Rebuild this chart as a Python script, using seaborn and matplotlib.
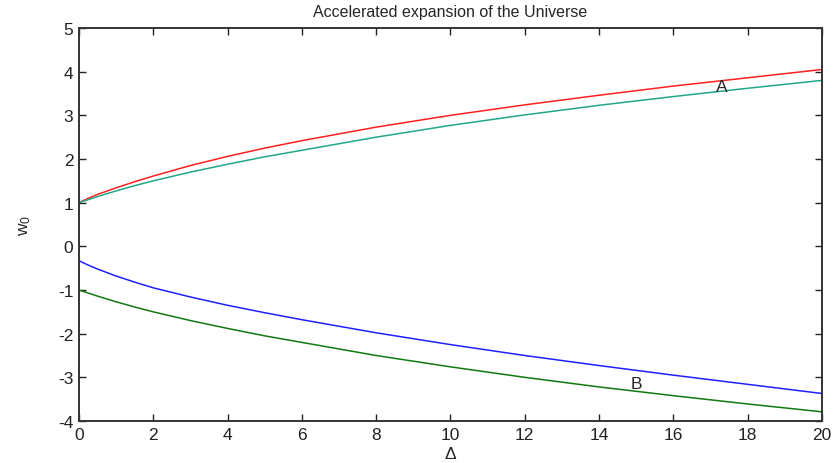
import pandas as pd
import matplotlib
matplotlib.use("Agg")
import matplotlib.pyplot as plt
import seaborn as sns

# values
delta = [0, 0.25, 0.5, 1, 1.5, 2, 3, 4, 5, 6, 8, 10, 12, 14, 16, 18, 20]
w_red = [1.0, 1.1, 1.19, 1.34, 1.48, 1.61, 1.85, 2.06, 2.25, 2.42, 2.73, 3.0, 3.24, 3.46, 3.67, 3.86, 4.05]
w_teal = [1.0, 1.07, 1.14, 1.27, 1.39, 1.5, 1.7, 1.88, 2.05, 2.2, 2.5, 2.77, 3.01, 3.23, 3.43, 3.62, 3.8]
w_blue = [-0.33, -0.43, -0.52, -0.68, -0.82, -0.95, -1.16, -1.35, -1.52, -1.68, -1.98, -2.25, -2.5, -2.73, -2.95, -3.16, -3.37]
w_green = [-1.0, -1.07, -1.14, -1.27, -1.39, -1.5, -1.7, -1.88, -2.05, -2.2, -2.5, -2.76, -3.0, -3.22, -3.42, -3.61, -3.79]

series = {"red": w_red, "teal": w_teal, "blue": w_blue, "green": w_green}
colors = {"red": "#ff2020", "teal": "#20a888", "blue": "#2020ff", "green": "#107a10"}

df = pd.concat(
    [pd.DataFrame({"delta": delta, "w0": vals, "curve": name}) for name, vals in series.items()],
    ignore_index=True,
)

sns.set_style("ticks")
plt.rcParams["font.family"] = ["Liberation Sans", "DejaVu Sans"]
plt.rcParams["axes.unicode_minus"] = False
plt.rcParams["mathtext.fontset"] = "custom"
plt.rcParams["mathtext.it"] = "Liberation Sans"
plt.rcParams["mathtext.rm"] = "Liberation Sans"

fig = plt.figure(figsize=(8.34, 4.64), dpi=100)
ax = fig.add_axes([0.0947, 0.0905, 0.8909, 0.847])

sns.lineplot(data=df, x="delta", y="w0", hue="curve", palette=colors,
             linewidth=1.1, legend=False, ax=ax)

ax.set_xlim(0, 20)
ax.set_ylim(-4, 5)
ax.set_xticks(range(0, 21, 2))
ax.set_yticks(range(-4, 6))
ax.tick_params(direction="in", length=5, width=1, top=True, right=True,
               labelsize=12.5, colors="#222222", pad=4)
for s in ax.spines.values():
    s.set_visible(True)
    s.set_linewidth(1.4)
    s.set_color("#333333")

ax.text(17.3, 3.65, "A", fontsize=12.5, ha="center", va="center")
ax.text(15.0, -3.15, "B", fontsize=12.5, ha="center", va="center")

ax.set_title("Accelerated expansion of the Universe", fontsize=11.5, pad=9)
ax.set_xlabel("\u0394", fontsize=12.5, labelpad=3)
ax.set_ylabel("$w_{\\mathrm{0}}$", fontsize=12.5, labelpad=18)

fig.savefig("out.png", dpi=100)
